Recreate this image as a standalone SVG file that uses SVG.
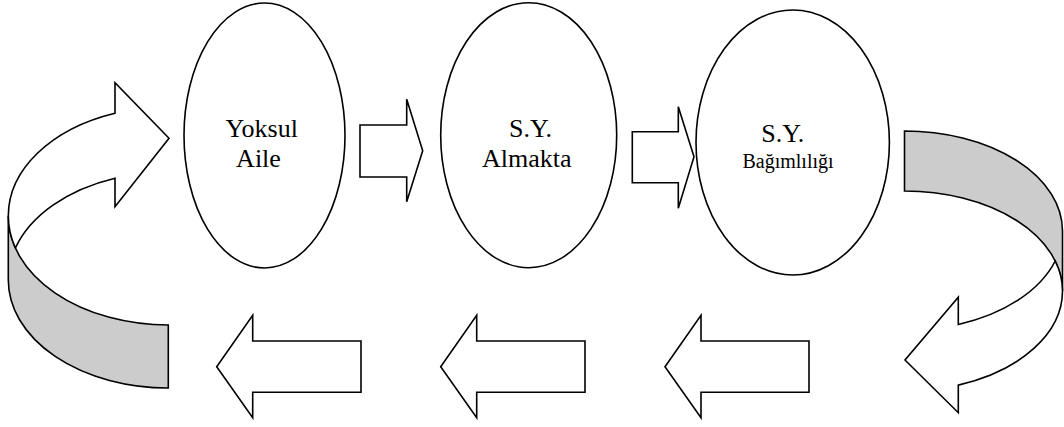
<svg xmlns="http://www.w3.org/2000/svg" width="1064" height="427" viewBox="0 0 1064 427">
  <style>
    .shape { fill: #ffffff; stroke: #000000; stroke-width: 1.6; stroke-linejoin: miter; }
    .band { fill: #cccccc; stroke: #000000; stroke-width: 1.6; }
    .label { font-size: 26px; fill: #000000; text-anchor: middle; }
    .small { font-size: 20px; }
  </style>
  <rect width="1064" height="427" fill="#ffffff"/>

  <!-- cycle stages -->
  <g id="node-yoksul-aile" font-family="Liberation Serif, Tinos, Noto Serif, DejaVu Serif, FreeSerif, Times New Roman, serif">
    <ellipse class="shape" cx="264.5" cy="135.5" rx="80.5" ry="132.5"/>
    <text class="label" x="261.7" y="137">Yoksul</text>
    <text class="label" x="258.5" y="167">Aile</text>
  </g>
  <g id="node-sy-almakta" font-family="Liberation Serif, Tinos, Noto Serif, DejaVu Serif, FreeSerif, Times New Roman, serif">
    <ellipse class="shape" cx="528.7" cy="135.2" rx="88" ry="132.5"/>
    <text class="label" x="530.5" y="136.7">S.Y.</text>
    <text class="label" x="526.7" y="166.7">Almakta</text>
  </g>
  <g id="node-sy-bagimliligi" font-family="Liberation Serif, Tinos, Noto Serif, DejaVu Serif, FreeSerif, Times New Roman, serif">
    <ellipse class="shape" cx="792.7" cy="142.5" rx="96.7" ry="132.5"/>
    <text class="label" x="782.7" y="141.7">S.Y.</text>
    <text class="label small" x="788" y="168.3">Bağımlılığı</text>
  </g>

  <g id="connectors">
    <!-- forward block arrows between stages -->
    <path class="shape" d="M360,125 L406.7,125 L406.7,99.3 L422.7,150.7 L406.7,201.7 L406.7,177 L360,177 Z"/>
    <path class="shape" d="M632.3,131.7 L678.3,131.7 L678.3,106.7 L694,156.7 L678.3,208.3 L678.3,182.7 L632.3,182.7 Z"/>

    <!-- return block arrows along the bottom -->
    <path class="shape" d="M216.7,366.7 L252.7,315.3 L252.7,341 L361,341 L361,392.3 L252.7,392.3 L252.7,417.7 Z"/>
    <path class="shape" d="M440.7,366.7 L476.7,315.3 L476.7,341 L585,341 L585,392.3 L476.7,392.3 L476.7,417.7 Z"/>
    <path class="shape" d="M665,366.7 L701,315.3 L701,341 L809,341 L809,392.3 L701,392.3 L701,417.7 Z"/>

    <!-- curved arrow on the right: shaded band turning down into a left-pointing head -->
    <path class="band" d="M904.5,131 A158,100 0 0 1 1062.5,231 L1062.5,291 A158,100 0 0 0 904.5,191 Z"/>
    <path class="shape" d="M958.3,385.1 L958.3,412.7 L905,360 L958.3,297.3 L958.3,324.5 A158,100 0 0 0 1055.2,261 A158,100 0 0 1 1062.5,291 A158,100 0 0 1 958.3,385.1 Z"/>

    <!-- curved arrow on the left: shaded band turning up into a right-pointing head -->
    <path class="band" d="M8.3,216 A160,109 0 0 0 168.3,325 L168.3,388 A160,108 0 0 1 8.3,280 Z"/>
    <path class="shape" d="M115,113.2 L115,82.7 L169,138.3 L115,206.7 L115,178.2 A160,108 0 0 0 15.4,248 A160,109 0 0 1 8.3,216 A160,109 0 0 1 115,113.2 Z"/>
  </g>
</svg>
